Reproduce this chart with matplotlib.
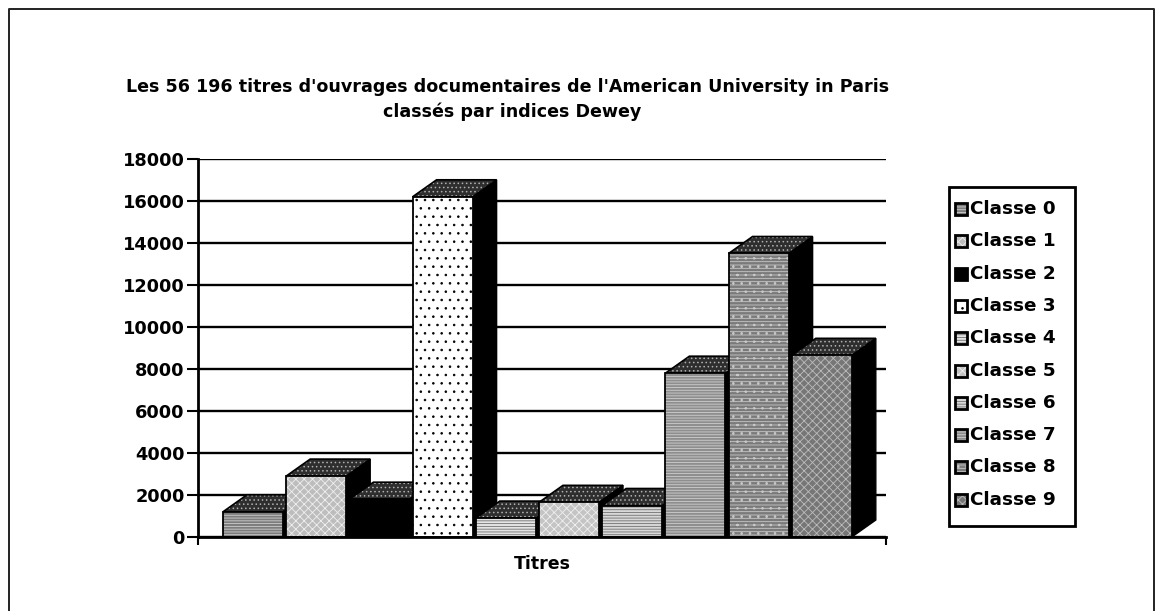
import matplotlib
matplotlib.use("Agg")
import matplotlib.pyplot as plt
from matplotlib.patches import Polygon, Rectangle
from matplotlib.lines import Line2D

# ---- data -------------------------------------------------------------
categories = ["Classe 0", "Classe 1", "Classe 2", "Classe 3", "Classe 4",
              "Classe 5", "Classe 6", "Classe 7", "Classe 8", "Classe 9"]
values = [1200, 2900, 1800, 16200, 900, 1650, 1500, 7800, 13500, 8650]
yticks = [0, 2000, 4000, 6000, 8000, 10000, 12000, 14000, 16000, 18000]
title_lines = ["Les 56 196 titres d'ouvrages documentaires de l'American University in Paris",
               "classés par indices Dewey"]
xlabel = "Titres"

# ---- styles -----------------------------------------------------------
face_colors = ["#7c7c7c", "#bdbdbd", "#000000", "#ffffff", "#e4e4e4",
               "#c4c4c4", "#d8d8d8", "#8e8e8e", "#7a7a7a", "#767676"]
hatches = ["------", "xxxx", None, "..", "------",
           "xxxx", "------", "------", "-----..", "xxxx"]
hatch_colors = ["#d0d0d0", "#f0f0f0", "#000000", "#000000", "#707070",
                "#f0f0f0", "#707070", "#cfcfcf", "#c8c8c8", "#bcbcbc"]

plt.rcParams['font.family'] = ['DejaVu Sans']
plt.rcParams['font.weight'] = 'bold'
plt.rcParams['hatch.linewidth'] = 0.6

W, H = 1159, 611
fig = plt.figure(figsize=(W / 100, H / 100), dpi=100)


def fx(px):
    return px / W


def fy(py):
    return 1 - py / H


# outer frame (open at the bottom)
fig.add_artist(Line2D([fx(9), fx(9), fx(1154), fx(1154)],
                      [fy(611), fy(9), fy(9), fy(611)],
                      transform=fig.transFigure, color="#222222", lw=1.4))

# axes
ax_left, ax_right, ax_top, ax_bottom = 198, 886, 159, 537
ax = fig.add_axes([fx(ax_left), fy(ax_bottom),
                   fx(ax_right) - fx(ax_left), fy(ax_top) - fy(ax_bottom)])

pitch_px = 63.2
first_center_px = 253
x0 = -(first_center_px - ax_left) / pitch_px
x1 = x0 + (ax_right - ax_left) / pitch_px
ax.set_xlim(x0, x1)
ax.set_ylim(0, 18000)

ax.set_axisbelow(True)
ax.set_yticks(yticks)
ax.set_yticklabels([str(t) for t in yticks], fontsize=12.8, fontweight='bold')
ax.yaxis.grid(True, color='black', lw=1.7)
ax.tick_params(axis='y', direction='out', length=8, width=1.5, pad=1.5)
ax.set_xticks([x0, x1])
ax.set_xticklabels(["", ""])
ax.tick_params(axis='x', direction='out', length=6, width=1.5)
for s in ['top', 'right']:
    ax.spines[s].set_visible(False)
for s in ['left', 'bottom']:
    ax.spines[s].set_linewidth(2)
    ax.spines[s].set_color('black')
    ax.spines[s].set_zorder(5)

bw = 0.95
ddx = 24 / pitch_px
ddy = 17 * 18000 / (ax_bottom - ax_top)

for i, (v, fc, hc, hcol) in enumerate(zip(values, face_colors, hatches, hatch_colors)):
    l, r = i - bw / 2, i + bw / 2
    z = 3 + i * 0.1
    # side face
    ax.add_patch(Polygon([(r, 0), (r, v), (r + ddx, v + ddy), (r + ddx, ddy)],
                         closed=True, facecolor='black', edgecolor='black',
                         lw=1, zorder=z, clip_on=False))
    # top face
    top = [(l, v), (r, v), (r + ddx, v + ddy), (l + ddx, v + ddy)]
    ax.add_patch(Polygon(top, closed=True, facecolor='#2e2e2e',
                         edgecolor='#b0b0b0', hatch='....', lw=0,
                         zorder=z, clip_on=False))
    ax.add_patch(Polygon(top, closed=True, fill=False, edgecolor='black',
                         lw=1.2, zorder=z + 0.005, clip_on=False))
    # front face (pattern, then outline)
    ax.add_patch(Rectangle((l, 0), bw, v, facecolor=fc, edgecolor=hcol,
                           hatch=hc, lw=0, zorder=z + 0.01, clip_on=False))
    ax.add_patch(Rectangle((l, 0), bw, v, fill=False, edgecolor='black',
                           lw=1.3, zorder=z + 0.02, clip_on=False))

# titles
fig.text(fx(508), fy(87), title_lines[0], ha='center', va='center',
         fontsize=12.6, fontweight='bold')
fig.text(fx(512), fy(112), title_lines[1], ha='center', va='center',
         fontsize=12.6, fontweight='bold')
fig.text(fx((ax_left + ax_right) / 2), fy(564), xlabel, ha='center', va='center',
         fontsize=12.5, fontweight='bold')

# legend
fig.add_artist(Rectangle((fx(949), fy(526)), fx(1075) - fx(949), fy(187) - fy(526),
                         transform=fig.transFigure, facecolor='white',
                         edgecolor='black', lw=2))
for i, (name, fc, hc, hcol) in enumerate(zip(categories, face_colors, hatches, hatch_colors)):
    yc = 209 + i * 32.3
    fig.add_artist(Rectangle((fx(955), fy(yc + 6)), fx(12), 12 / H,
                             transform=fig.transFigure, facecolor=fc,
                             edgecolor=hcol, hatch=hc, lw=0))
    fig.add_artist(Rectangle((fx(955), fy(yc + 6)), fx(12), 12 / H,
                             transform=fig.transFigure, fill=False,
                             edgecolor='black', lw=2))
    fig.text(fx(970), fy(yc), name, ha='left', va='center',
             fontsize=13.2, fontweight='bold')

fig.savefig("out.png", dpi=100)
